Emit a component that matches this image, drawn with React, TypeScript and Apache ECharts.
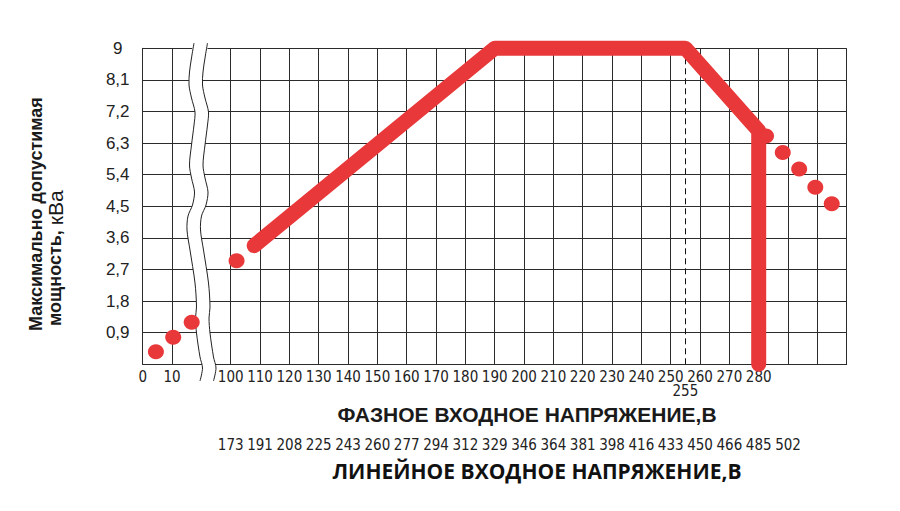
import React, { useEffect, useRef } from "react";
import * as echarts from "echarts";

// Phase voltage axis labels (one per 10-unit display step; the gap 20..90 is a break)
const phaseLabels = ["0", "10", "", "100", "110", "120", "130", "140", "150", "160", "170", "180", "190", "200", "210", "220", "230", "240", "250", "260", "270", "280", "", "", ""];
// Line voltage labels under the phase labels
const lineLabels = ["", "", "", "173", "191", "208", "225", "243", "260", "277", "294", "312", "329", "346", "364", "381", "398", "416", "433", "450", "466", "485", "502", "", ""];
// Y tick values
const yTicks = [0, 0.9, 1.8, 2.7, 3.6, 4.5, 5.4, 6.3, 7.2, 8.1, 9];

// Data (phase voltage, kVA)
const dotsLow = [[4.5, 0.36], [10.4, 0.77], [16.7, 1.2]];
const dotsMid = [[102, 2.95]];
const mainLine = [[108, 3.38], [190, 9], [255, 9], [280, 6.65], [280, 0]];
const dotsHigh = [[282.5, 6.5], [288.2, 6.03], [293.8, 5.56], [299.3, 5.04], [304.9, 4.57]];
const markVoltage = 255;

const RED = "#E8383A";
const GRID_C = "#2b2b2b";
const NARROW = "'Liberation Sans Narrow','DejaVu Sans Condensed','Arial Narrow',sans-serif";
const SANS = "'Liberation Sans',Arial,sans-serif";

// Map phase voltage to display coordinate (axis break between 20 and 100)
const toD = (v: number) => (v <= 20 ? v : v - 70);

const GL = 142.7, GT = 48.3, GW = 704, GH = 316;

// Break decoration (wavy band)
const breakLeft: number[][] = [
  [194, 43], [191.5, 58], [189.5, 72], [189, 85], [191.5, 98], [195, 112], [194, 125], [191.5, 145],
  [189.5, 165], [191.5, 178], [194.5, 192], [192.5, 205], [188, 216], [187, 230], [190, 250], [195, 283],
  [196.5, 307], [195.5, 318], [196.5, 333], [200, 357], [202.5, 368], [200, 381],
];
const BAND = 13.5;

export default function App() {
  const ref = useRef<HTMLDivElement>(null);
  useEffect(() => {
    if (!ref.current) return;
    const chart = echarts.init(ref.current, undefined, { renderer: "svg" });
    const breakRight = breakLeft.map(([x, y]) => [x + BAND, y]);
    const splitColors = phaseLabels.map((_, i) => (i === 2 ? "rgba(0,0,0,0)" : GRID_C));
    const fmtY = (v: number) => {
      if (Math.abs(v) < 1e-9) return "";
      const r = Number(v.toFixed(1));
      return String(r).replace(".", ",");
    };
    chart.setOption({
      animation: false,
      backgroundColor: "#fff",
      grid: { left: GL, top: GT, width: GW, height: GH, containLabel: false },
      xAxis: [
        {
          type: "value", min: 0, max: 240, interval: 10, position: "bottom",
          axisLine: { show: true, lineStyle: { color: GRID_C, width: 1 } },
          axisTick: { show: false },
          splitLine: { show: true, lineStyle: { color: splitColors, width: 1 } },
          axisLabel: {
            formatter: (v: number) => phaseLabels[Math.round(v / 10)] ?? "",
            margin: 5, fontSize: 15, fontFamily: NARROW, color: "#222",
          },
        },
        {
          type: "value", min: 0, max: 240, interval: 10, position: "bottom", offset: 66,
          axisLine: { show: false }, axisTick: { show: false }, splitLine: { show: false },
          axisLabel: {
            formatter: (v: number) => lineLabels[Math.round(v / 10)] ?? "",
            margin: 7, fontSize: 15, fontFamily: NARROW, color: "#222",
          },
        },
      ],
      yAxis: {
        type: "value", min: yTicks[0], max: yTicks[yTicks.length - 1], interval: 0.9,
        axisLine: { show: true, lineStyle: { color: GRID_C, width: 1 } },
        axisTick: { show: false },
        splitLine: { show: true, lineStyle: { color: GRID_C, width: 1 } },
        axisLabel: { formatter: fmtY, fontSize: 17, fontFamily: SANS, color: "#222", align: "center", margin: 25 },
      },
      series: [
        {
          type: "line", xAxisIndex: 0,
          data: mainLine.map(([v, y]) => [toD(v), y]),
          showSymbol: false, clip: false, z: 3,
          lineStyle: { color: RED, width: 15, cap: "round", join: "round" },
          markLine: {
            silent: true, symbol: ["none", "none"], z: 2,
            lineStyle: { type: [6, 4], color: "#111", width: 1 },
            label: { show: true, position: "start", formatter: String(markVoltage), distance: 19, fontSize: 15, fontFamily: NARROW, color: "#222" },
            data: [{ xAxis: toD(markVoltage) }],
          },
        },
        {
          type: "scatter", xAxisIndex: 0, clip: false, z: 3,
          symbol: "circle", symbolSize: [16, 15],
          itemStyle: { color: RED, opacity: 1 },
          data: [...dotsLow, ...dotsMid, ...dotsHigh].map(([v, y]) => [toD(v), y]),
        },
      ],
      graphic: [
        {
          type: "polygon", z: 1, silent: true,
          shape: { points: [...breakLeft, ...breakRight.slice().reverse()], smooth: 0.3 },
          style: { fill: "#fff", stroke: null },
        },
        { type: "polyline", z: 1, silent: true, shape: { points: breakLeft, smooth: 0.3 }, style: { stroke: "#222", lineWidth: 1, fill: null } },
        { type: "polyline", z: 1, silent: true, shape: { points: breakRight, smooth: 0.3 }, style: { stroke: "#222", lineWidth: 1, fill: null } },
        {
          type: "text", z: 10, x: 36, y: 331, rotation: Math.PI / 2,
          style: { text: "Максимально допустимая", fontSize: 18, fontWeight: "bold", fontFamily: SANS, fill: "#1a1a1a", textAlign: "left", textVerticalAlign: "middle" },
        },
        {
          type: "text", z: 10, x: 55, y: 326, rotation: Math.PI / 2,
          style: {
            text: "{b|мощность, }{r|кВа}",
            rich: {
              b: { fontSize: 18, fontWeight: "bold", fontFamily: SANS, fill: "#1a1a1a" },
              r: { fontSize: 21, fontFamily: SANS, fill: "#1a1a1a" },
            },
            textAlign: "left", textVerticalAlign: "middle",
          },
        },
        {
          type: "text", z: 10, x: 527, y: 414,
          style: { text: "ФАЗНОЕ ВХОДНОЕ НАПРЯЖЕНИЕ,В", fontSize: 21, fontWeight: "bold", fontFamily: SANS, fill: "#1a1a1a", textAlign: "center", textVerticalAlign: "middle" },
        },
        {
          type: "text", z: 10, x: 537, y: 471,
          style: { text: "ЛИНЕЙНОЕ ВХОДНОЕ НАПРЯЖЕНИЕ,В", fontSize: 21, fontWeight: "bold", fontFamily: "'Open Sans'," + SANS, fill: "#111", textAlign: "center", textVerticalAlign: "middle" },
        },
      ],
    });
    return () => chart.dispose();
  }, []);
  return <div ref={ref} style={{ position: "fixed", left: 0, top: 0, width: 900, height: 511 }} />;
}
